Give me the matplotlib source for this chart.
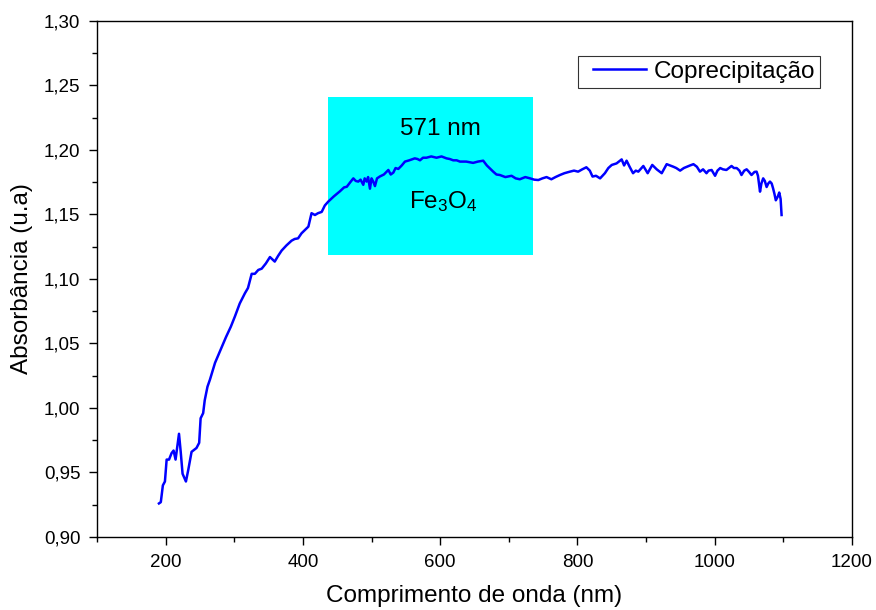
import matplotlib
matplotlib.use("Agg")
import matplotlib.pyplot as plt
from matplotlib.patches import Rectangle
from matplotlib.ticker import MultipleLocator, FuncFormatter
from matplotlib.legend_handler import HandlerLine2D

plt.rcParams['font.family'] = ['Liberation Sans', 'DejaVu Sans']
plt.rcParams['mathtext.default'] = 'regular'

# espectro UV-Vis
comprimento = [190.3, 193, 196, 199, 201.5, 205, 208.7, 211.6, 214.5, 219.5, 222, 224.7, 229.6, 233,
               237.8, 245, 248.9, 251, 254.7, 257, 261, 264.6, 272, 280, 288, 295,
               301, 308, 315.6, 320, 325.4, 330, 335, 340, 346, 352, 359, 364, 369, 376, 383.5, 388,
               393, 398, 403, 408, 412.6, 417.6, 422, 427.4, 432, 437, 445, 454, 460, 464, 469,
               473.5, 477, 480.7, 484, 488, 490, 492.8, 495, 497.7, 500, 502.5, 505, 508, 512.3,
               518, 524.5, 528, 531.8, 535, 539, 544, 548.7, 555, 563, 567, 570.6, 575, 580, 587,
               594.7, 602, 609.3, 614, 619, 624, 628.8, 638, 648, 655, 662.7, 668, 677.3, 682, 687,
               695, 704, 710, 716, 724, 731, 737, 743, 749, 755, 762, 768, 774.5, 781, 789, 795,
               801, 807, 813, 818, 822, 827, 833, 840, 845, 850, 857, 864.4, 868, 871.6, 876, 881,
               885, 888.7, 896, 902.3, 909, 915.5, 922.8, 930, 935, 939.8, 944, 949.6, 955, 959.3,
               964, 969, 974, 978.5, 983, 988, 991, 995.5, 1000.5, 1004, 1008, 1012, 1017, 1024.5,
               1028, 1032, 1036, 1039, 1043, 1046.5, 1050, 1053.6, 1058, 1061, 1063, 1066, 1068,
               1070.6, 1073, 1075.6, 1078, 1080.5, 1083, 1085, 1087, 1089, 1092, 1094, 1096, 1097.4]
absorbancia = [0.926, 0.927, 0.940, 0.943, 0.960, 0.960, 0.965, 0.967, 0.960, 0.980, 0.966, 0.949, 0.943, 0.952,
               0.966, 0.969, 0.973, 0.992, 0.996, 1.006, 1.0165, 1.022, 1.035, 1.045, 1.055, 1.063,
               1.071, 1.081, 1.089, 1.093, 1.104, 1.104, 1.107, 1.108, 1.112, 1.117, 1.1135, 1.118, 1.122, 1.126, 1.1297, 1.131,
               1.1315, 1.1354, 1.138, 1.1406, 1.151, 1.1496, 1.151, 1.152, 1.157, 1.160, 1.164, 1.168, 1.171, 1.1715, 1.175,
               1.178, 1.176, 1.1755, 1.177, 1.173, 1.178, 1.1755, 1.179, 1.170, 1.178, 1.1755, 1.172, 1.178, 1.1795,
               1.181, 1.1845, 1.181, 1.1825, 1.186, 1.1853, 1.188, 1.191, 1.192, 1.1935, 1.193, 1.192, 1.194, 1.194, 1.195,
               1.194, 1.195, 1.1935, 1.193, 1.192, 1.192, 1.191, 1.191, 1.190, 1.191, 1.1917, 1.188, 1.1832, 1.181, 1.1806,
               1.179, 1.180, 1.178, 1.1773, 1.179, 1.178, 1.177, 1.1767, 1.178, 1.179, 1.1773, 1.179, 1.1806, 1.182, 1.1832, 1.184,
               1.1832, 1.185, 1.1866, 1.184, 1.1794, 1.180, 1.178, 1.182, 1.186, 1.1884, 1.1896, 1.1927, 1.188, 1.1917, 1.187, 1.182,
               1.184, 1.1832, 1.1876, 1.182, 1.1884, 1.185, 1.182, 1.189, 1.188, 1.187, 1.186, 1.184, 1.186, 1.187,
               1.188, 1.189, 1.187, 1.1832, 1.185, 1.182, 1.184, 1.1845, 1.180, 1.184, 1.186, 1.185, 1.1845, 1.1876,
               1.186, 1.186, 1.184, 1.1806, 1.184, 1.185, 1.183, 1.1806, 1.183, 1.1832, 1.180, 1.1677, 1.174,
               1.178, 1.176, 1.1713, 1.174, 1.1755, 1.174, 1.1703, 1.166, 1.161, 1.164, 1.167, 1.162, 1.1496]

# regiao destacada (banda do Fe3O4)
faixa_x = [437, 735]
faixa_y = [1.1186, 1.2412]

fig = plt.figure(figsize=(8.76, 6.10), dpi=100)
ax = fig.add_axes([0.1107, 0.1197, 0.8619, 0.8459])

ax.add_patch(Rectangle((faixa_x[0], faixa_y[0]), faixa_x[1] - faixa_x[0], faixa_y[1] - faixa_y[0],
                       facecolor='#00FFFF', edgecolor='none', zorder=1))
ax.plot(comprimento, absorbancia, color='#0000FF', lw=1.8, label='Coprecipitação', zorder=3)

ax.text(600, 1.2163, '571 nm', fontsize=17.5, ha='center', va='center', zorder=4)
ax.text(604, 1.160, r'Fe$_\mathregular{3}$O$_\mathregular{4}$', fontsize=17.5, ha='center', va='center', zorder=4)

ax.set_xlim(100, 1200)
ax.set_ylim(0.90, 1.30)
ax.xaxis.set_major_locator(MultipleLocator(200))
ax.xaxis.set_minor_locator(MultipleLocator(100))
ax.yaxis.set_major_locator(MultipleLocator(0.05))
ax.yaxis.set_minor_locator(MultipleLocator(0.025))
ax.yaxis.set_major_formatter(FuncFormatter(lambda v, p: f"{v:.2f}".replace('.', ',')))

ax.tick_params(which='major', direction='out', length=6, width=1, labelsize=13.5, pad=6)
ax.tick_params(which='minor', direction='out', length=3.5, width=1)
for s in ax.spines.values():
    s.set_linewidth(1)

ax.set_xlabel('Comprimento de onda (nm)', fontsize=17.5, labelpad=10)
ax.set_ylabel('Absorbância (u.a)', fontsize=17.5, labelpad=8)

leg = ax.legend(loc='upper right', bbox_to_anchor=(0.9576, 0.9322), borderaxespad=0,
                fontsize=17.5, frameon=True, fancybox=False, handlelength=2.6,
                borderpad=0.2, handletextpad=0.3,
                handler_map={plt.Line2D: HandlerLine2D(xpad=0.4)})
leg.get_frame().set_edgecolor('black')
leg.get_frame().set_linewidth(0.8)

fig.savefig('out.png', dpi=100)
